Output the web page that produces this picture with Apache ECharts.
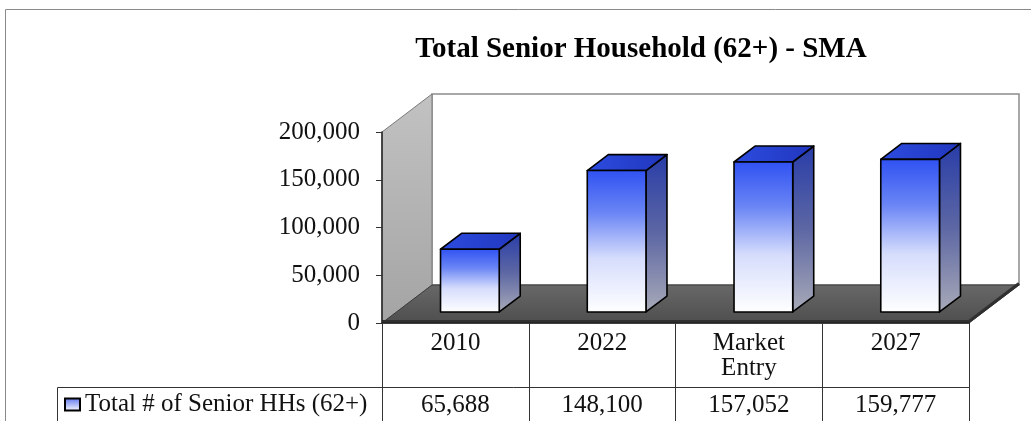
<!DOCTYPE html>
<html>
<head>
<meta charset="utf-8">
<style>
  html, body { margin: 0; padding: 0; background: #ffffff; }
  #chart { width: 1031px; height: 421px; }
</style>
<script src="https://cdn.jsdelivr.net/npm/echarts@6/dist/echarts.min.js"></script>
</head>
<body>
<div id="chart"></div>
<script>
// Chart data
const categories = ['2010', '2022', 'Market\nEntry', '2027'];
const seniorHouseholds = [65688, 148100, 157052, 159777];
const yTicks = [0, 50000, 100000, 150000, 200000];
const seriesName = 'Total # of Senior HHs (62+)';
const chartTitle = 'Total Senior Household (62+) - SMA';

// Oblique 3D look: offset of the back plane in pixels
const DEPTH_X = 50;
const DEPTH_Y = -38;
const BAR_RATIO = 0.4;   // bar width relative to category width
const BAR_FRONT = 0.29;  // where the bar's front face sits in depth
const BAR_DEPTH = 0.42;  // bar thickness in depth
const SERIF = '"Liberation Serif", "Times New Roman", serif';

const fmt = v => v.toLocaleString('en-US');

const frontGrad = new echarts.graphic.LinearGradient(0, 0, 0, 1, [
  { offset: 0, color: '#2f51f2' },
  { offset: 0.3, color: '#6a85f5' },
  { offset: 0.62, color: '#d6ddfc' },
  { offset: 1, color: '#ffffff' }
]);
const sideGrad = new echarts.graphic.LinearGradient(0, 0, 0, 1, [
  { offset: 0, color: '#283ca8' },
  { offset: 0.5, color: '#5d67a4' },
  { offset: 1, color: '#a9abb8' }
]);
const topGrad = new echarts.graphic.LinearGradient(0, 0, 1, 0, [
  { offset: 0, color: '#2c4ce0' },
  { offset: 1, color: '#2136bd' }
]);

// Walls and floor of the plot box
function renderWalls(params, api) {
  const cs = params.coordSys;
  const x0 = cs.x, y0 = cs.y, w = cs.width, h = cs.height;
  const yb = y0 + h;
  return {
    type: 'group',
    children: [
      {
        type: 'rect',
        shape: { x: x0 + DEPTH_X, y: y0 + DEPTH_Y, width: w, height: h },
        style: { fill: '#ffffff', stroke: '#8c8c8c', lineWidth: 1.5 }
      },
      {
        type: 'polygon',
        shape: { points: [[x0, y0], [x0 + DEPTH_X, y0 + DEPTH_Y], [x0 + DEPTH_X, yb + DEPTH_Y], [x0, yb]] },
        style: {
          fill: new echarts.graphic.LinearGradient(0, 0, 0, 1, [
            { offset: 0, color: '#c2c2c2' },
            { offset: 1, color: '#a4a4a4' }
          ]),
          stroke: '#7a7a7a', lineWidth: 1
        }
      },
      {
        type: 'polygon',
        shape: { points: [[x0, yb], [x0 + DEPTH_X, yb + DEPTH_Y], [x0 + w + DEPTH_X, yb + DEPTH_Y], [x0 + w, yb]] },
        style: {
          fill: new echarts.graphic.LinearGradient(0, 0, 0, 1, [
            { offset: 0, color: '#686868' },
            { offset: 1, color: '#4e4e4e' }
          ]),
          stroke: '#3c3c3c', lineWidth: 1
        }
      },
      {
        type: 'polyline',
        shape: { points: [[x0, yb - 1.5], [x0 + w, yb - 1.5], [x0 + w + DEPTH_X, yb + DEPTH_Y - 1.5]] },
        style: { stroke: '#303030', lineWidth: 3, fill: null }
      }
    ]
  };
}

// One 3D column per category plus its value in the data table row
function renderBar(params, api) {
  const i = api.value(0);
  const v = api.value(1);
  const base = api.coord([i, 0]);
  const top = api.coord([i, v]);
  const cw = api.size([1, 0])[0];
  const bw = cw * BAR_RATIO;
  const ox = DEPTH_X * BAR_FRONT, oy = DEPTH_Y * BAR_FRONT;
  const dx = DEPTH_X * BAR_DEPTH, dy = DEPTH_Y * BAR_DEPTH;
  const xl = base[0] - bw / 2 + ox, xr = xl + bw;
  const yb = base[1] + oy, yt = top[1] + oy;
  const cs = params.coordSys;
  const edge = { stroke: '#000000', lineWidth: 1.6, lineJoin: 'round' };
  return {
    type: 'group',
    children: [
      {
        type: 'polygon',
        shape: { points: [[xr, yt], [xr + dx, yt + dy], [xr + dx, yb + dy], [xr, yb]] },
        style: Object.assign({ fill: sideGrad }, edge)
      },
      {
        type: 'polygon',
        shape: { points: [[xl, yt], [xr, yt], [xr + dx, yt + dy], [xl + dx, yt + dy]] },
        style: Object.assign({ fill: topGrad }, edge)
      },
      {
        type: 'rect',
        shape: { x: xl, y: yt, width: bw, height: yb - yt },
        style: Object.assign({ fill: frontGrad }, edge)
      },
      {
        type: 'text',
        style: {
          text: fmt(v),
          x: base[0], y: cs.y + cs.height + 82,
          font: '25px ' + SERIF,
          fill: '#111111', align: 'center', verticalAlign: 'middle'
        }
      }
    ]
  };
}

const chart = echarts.init(document.getElementById('chart'), null, { renderer: 'canvas' });

chart.setOption({
  backgroundColor: '#ffffff',
  animation: false,
  title: {
    text: chartTitle,
    left: 636,
    top: 30,
    textAlign: 'center',
    textStyle: { fontFamily: SERIF, fontSize: 29, fontWeight: 'bold', color: '#000000' }
  },
  legend: {
    left: 59,
    top: 387,
    itemWidth: 15,
    itemHeight: 12,
    itemGap: 5,
    selectedMode: false,
    data: [{
      name: seriesName,
      icon: 'rect',
      itemStyle: {
        color: new echarts.graphic.LinearGradient(0, 0, 0, 1, [
          { offset: 0, color: '#5a72ee' },
          { offset: 1, color: '#ffffff' }
        ]),
        borderColor: '#000000',
        borderWidth: 2
      }
    }],
    textStyle: { fontFamily: SERIF, fontSize: 25, color: '#111111' }
  },
  grid: { left: 382, right: 62, top: 132, bottom: 98, containLabel: false },
  xAxis: {
    type: 'category',
    data: categories,
    z: 5,
    axisLine: { show: true, lineStyle: { color: '#222222', width: 1.5 } },
    axisTick: { show: true, interval: 0, alignWithLabel: false, length: 98, lineStyle: { color: '#333333', width: 1 } },
    axisLabel: {
      interval: 0,
      margin: 8,
      fontFamily: SERIF, fontSize: 25, lineHeight: 25, color: '#111111'
    },
    splitLine: { show: false }
  },
  yAxis: {
    type: 'value',
    min: yTicks[0],
    max: yTicks[yTicks.length - 1],
    interval: yTicks[1] - yTicks[0],
    z: 5,
    axisLine: { show: true, lineStyle: { color: '#222222', width: 1.5 } },
    axisTick: { show: true, length: 6, lineStyle: { color: '#333333' } },
    axisLabel: {
      margin: 22,
      formatter: v => fmt(v),
      fontFamily: SERIF, fontSize: 25, color: '#111111'
    },
    splitLine: { show: false }
  },
  graphic: [
    {
      type: 'rect',
      shape: { x: 5.5, y: 9.5, width: 1100, height: 600 },
      style: { fill: null, stroke: '#8a8a8a', lineWidth: 1 },
      silent: true
    },
    {
      type: 'polyline',
      shape: { points: [[57.5, 430], [57.5, 387.5], [969, 387.5]] },
      style: { fill: null, stroke: '#333333', lineWidth: 1 },
      silent: true
    }
  ],
  series: [
    {
      type: 'custom',
      name: 'walls',
      renderItem: renderWalls,
      data: [[0, 0]],
      clip: false,
      silent: true,
      z: 1
    },
    {
      type: 'custom',
      name: seriesName,
      renderItem: renderBar,
      data: seniorHouseholds.map((v, i) => [i, v]),
      encode: { x: 0, y: 1 },
      itemStyle: { color: '#4a66f0' },
      clip: false,
      z: 3
    }
  ]
});
</script>
</body>
</html>
